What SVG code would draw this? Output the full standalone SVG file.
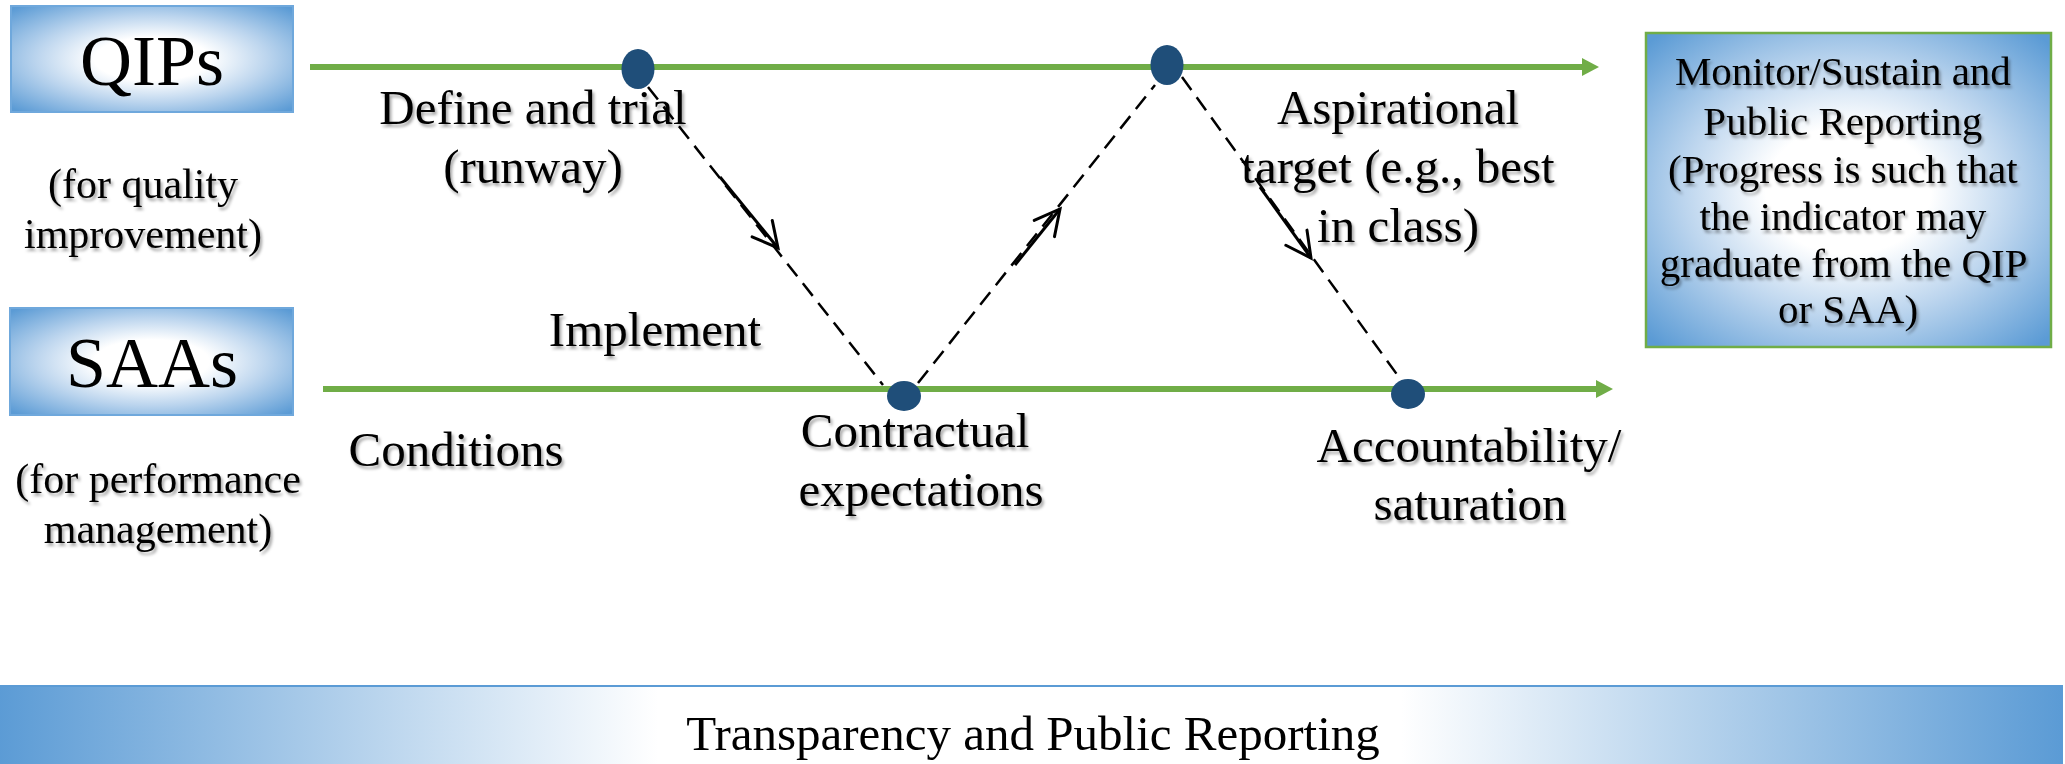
<svg xmlns="http://www.w3.org/2000/svg" width="2065" height="764" viewBox="0 0 2065 764">
  <defs>
    <radialGradient id="boxGrad" cx="0.5" cy="0.5" r="0.68">
      <stop offset="0" stop-color="#ffffff"/>
      <stop offset="0.3" stop-color="#ffffff"/>
      <stop offset="0.6" stop-color="#bcd5ee"/>
      <stop offset="1" stop-color="#5b9bd5"/>
    </radialGradient>
    <linearGradient id="barGrad" x1="0" y1="0" x2="1" y2="0">
      <stop offset="0" stop-color="#5b9bd5"/>
      <stop offset="0.32" stop-color="#ffffff"/>
      <stop offset="0.68" stop-color="#ffffff"/>
      <stop offset="1" stop-color="#5b9bd5"/>
    </linearGradient>
    <filter id="shadow" x="-10%" y="-20%" width="120%" height="150%">
      <feDropShadow dx="2" dy="3" stdDeviation="1.5" flood-color="#000000" flood-opacity="0.35"/>
    </filter>
    <marker id="openArrow" markerUnits="userSpaceOnUse" viewBox="-28 -16 32 32" markerWidth="32" markerHeight="32" refX="0" refY="0" orient="auto">
      <path d="M-25,-13 L0,0 L-25,13" fill="none" stroke="#000000" stroke-width="3" stroke-linecap="round" stroke-linejoin="miter"/>
    </marker>
  </defs>
  <style>
    text { font-family: "Liberation Serif", "Times New Roman", serif; fill: #000000; text-anchor: middle; }
    .lbl { font-size: 49px; filter: url(#shadow); }
    .sub { font-size: 42px; filter: url(#shadow); }
    .big { font-size: 72px; }
    .mon { font-size: 41px; filter: url(#shadow); }
    .bar { font-size: 49px; }
    .axis { stroke: #70ad47; stroke-width: 6; fill: none; }
    .axishead { fill: #70ad47; }
    .dot { fill: #1f4e79; }
    .dash { stroke: #000000; stroke-width: 2.5; stroke-dasharray: 16 9; fill: none; }
    .arr { stroke: #000000; stroke-width: 3; fill: none; marker-end: url(#openArrow); }
    .blueBox { fill: url(#boxGrad); stroke: #6fa8dc; stroke-width: 2; }
    .greenBox { fill: url(#boxGrad); stroke: #70ad47; stroke-width: 2.5; }
  </style>
  <rect width="2065" height="764" fill="#ffffff"/>

  <g id="qips">
    <rect class="blueBox" x="11" y="6" width="282" height="106"/>
    <text class="big" x="152" y="85">QIPs</text>
  </g>
  <g id="qips-sub">
    <text class="sub"><tspan x="143" y="198">(for quality</tspan><tspan x="143" y="248">improvement)</tspan></text>
  </g>
  <g id="saas">
    <rect class="blueBox" x="10" y="308" width="283" height="107"/>
    <text class="big" x="152" y="387">SAAs</text>
  </g>
  <g id="saas-sub">
    <text class="sub"><tspan x="158" y="493">(for performance</tspan><tspan x="158" y="543">management)</tspan></text>
  </g>

  <g id="connectors">
    <line class="axis" x1="310" y1="67" x2="1585" y2="67"/>
    <polygon class="axishead" points="1582,58 1599,67 1582,76"/>
    <line class="axis" x1="323" y1="389" x2="1598" y2="389"/>
    <polygon class="axishead" points="1596,380 1613,389 1596,398"/>
    <line class="dash" x1="648" y1="87" x2="883" y2="385"/>
    <line class="dash" x1="918" y1="383" x2="1155" y2="85"/>
    <line class="dash" x1="1182" y1="77" x2="1401" y2="380"/>
    <line class="arr" x1="720" y1="177" x2="778" y2="248"/>
    <line class="arr" x1="1015" y1="265" x2="1060" y2="209"/>
    <line class="arr" x1="1260" y1="187" x2="1311" y2="258"/>
  </g>

  <g id="dot-define">
    <ellipse class="dot" cx="638" cy="69" rx="16.5" ry="20"/>
  </g>
  <g id="dot-aspirational">
    <ellipse class="dot" cx="1167" cy="65" rx="16.5" ry="20"/>
  </g>
  <g id="dot-contractual">
    <ellipse class="dot" cx="904" cy="396" rx="17" ry="15"/>
  </g>
  <g id="dot-accountability">
    <ellipse class="dot" cx="1408" cy="394" rx="17" ry="15"/>
  </g>

  <g id="label-define">
    <text class="lbl"><tspan x="533" y="124">Define and trial</tspan><tspan x="533" y="183">(runway)</tspan></text>
  </g>
  <g id="label-implement">
    <text class="lbl" x="655" y="346">Implement</text>
  </g>
  <g id="label-conditions">
    <text class="lbl" x="456" y="466">Conditions</text>
  </g>
  <g id="label-contractual">
    <text class="lbl"><tspan x="915" y="447">Contractual</tspan><tspan x="921" y="506">expectations</tspan></text>
  </g>
  <g id="label-aspirational">
    <text class="lbl"><tspan x="1398" y="124">Aspirational</tspan><tspan x="1398" y="183">target (e.g., best</tspan><tspan x="1398" y="242">in class)</tspan></text>
  </g>
  <g id="label-accountability">
    <text class="lbl"><tspan x="1469" y="462">Accountability/</tspan><tspan x="1470" y="520">saturation</tspan></text>
  </g>

  <g id="monitor">
    <rect class="greenBox" x="1646" y="33" width="405" height="314"/>
    <text class="mon">
      <tspan x="1848" y="85">Monitor/Sustain and</tspan>
      <tspan x="1848" y="135">Public Reporting</tspan>
      <tspan x="1848" y="183">(Progress is such that</tspan>
      <tspan x="1848" y="230">the indicator may</tspan>
      <tspan x="1848" y="277">graduate from the QIP</tspan>
      <tspan x="1848" y="323">or SAA)</tspan>
    </text>
  </g>

  <g id="transparency">
    <rect x="-2" y="686" width="2064" height="82" fill="url(#barGrad)" stroke="#5b9bd5" stroke-width="2"/>
    <text class="bar" x="1033" y="750">Transparency and Public Reporting</text>
  </g>
</svg>
